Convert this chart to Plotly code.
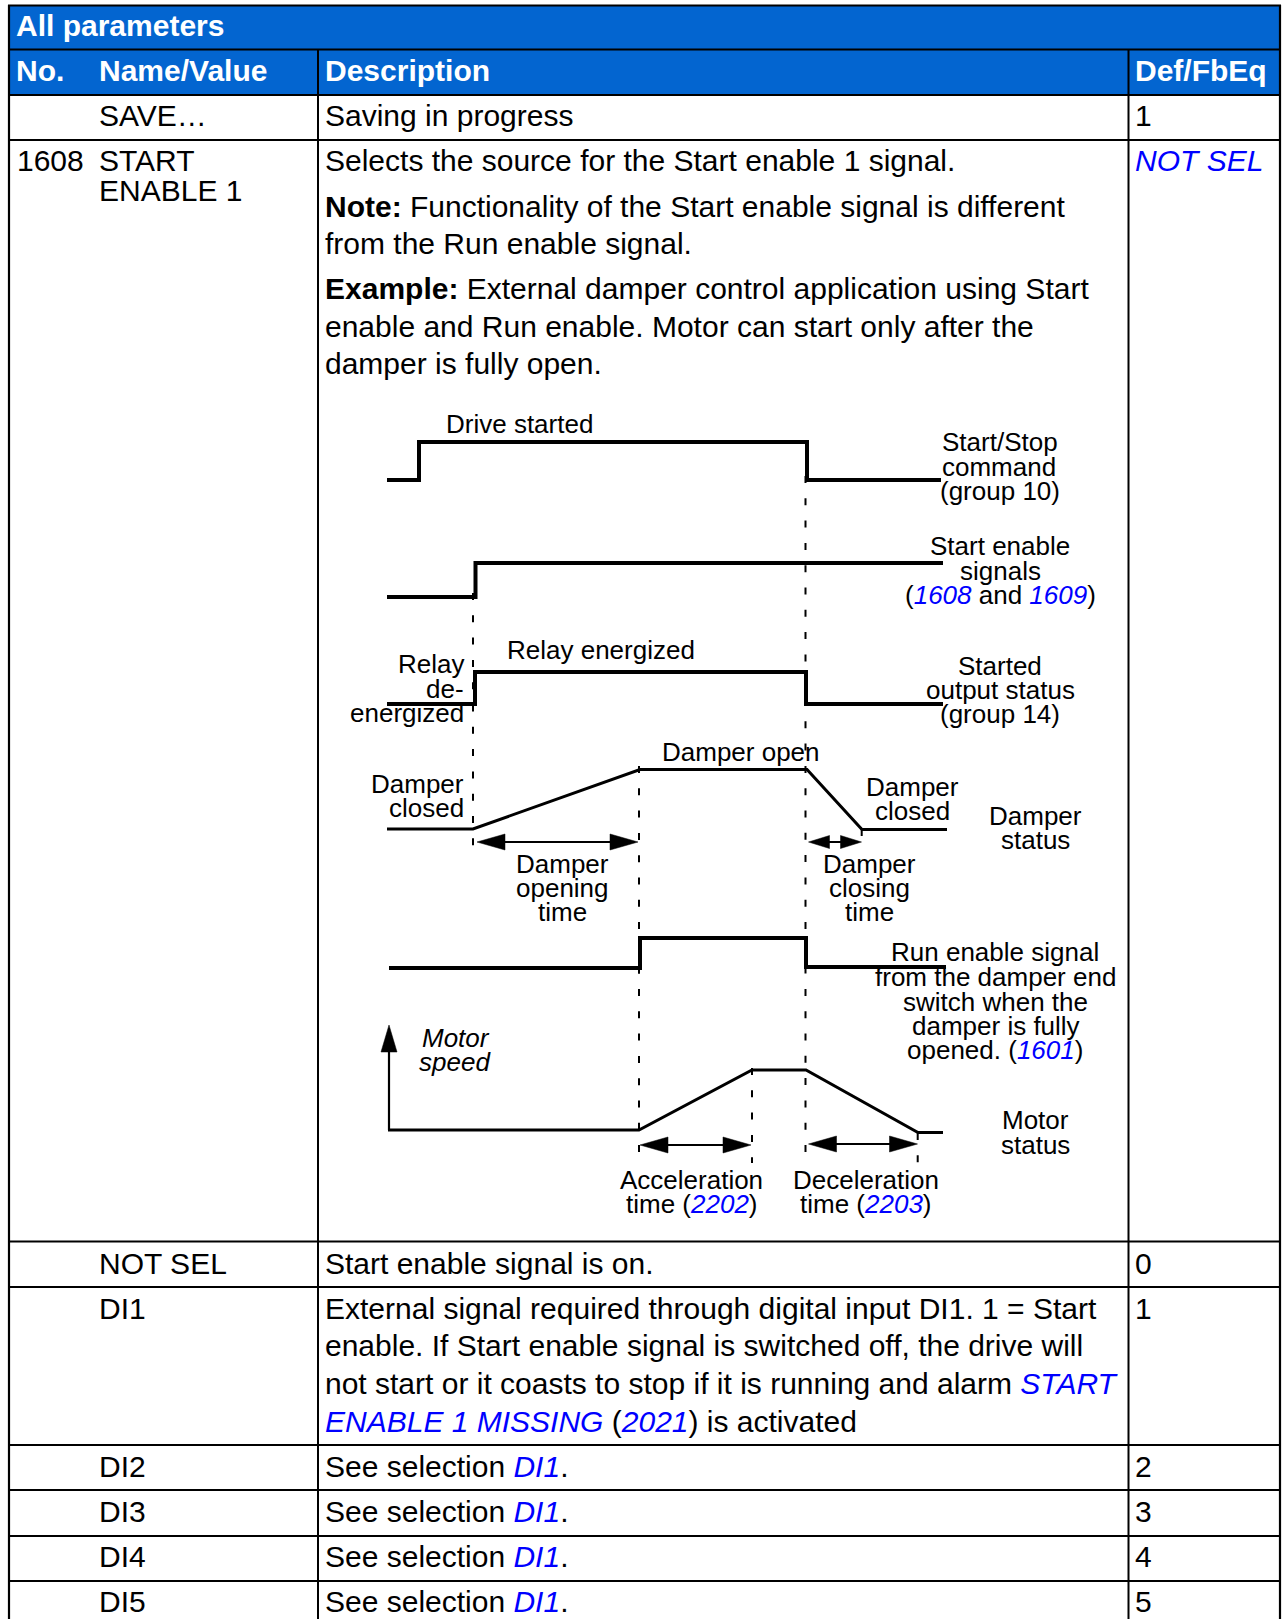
import plotly.graph_objects as go

W, H = 1288, 1619
BLUE = "#0000FF"
HEADER = "#0365D0"
FONT = "Liberation Sans, Arial, sans-serif"

# ---- signal waveforms
start_stop_x = [387, 419, 419, 807, 807, 941]
start_stop_y = [480, 480, 442, 442, 480, 480]
start_enable_x = [387, 475.5, 475.5, 943]
start_enable_y = [597, 597, 563, 563]
relay_x = [387, 475, 475, 806, 806, 943]
relay_y = [704, 704, 672, 672, 704, 704]
damper_x = [387, 473, 640, 807, 862, 947]
damper_y = [829, 829, 769.5, 769.5, 829.5, 829.5]
run_enable_x = [389, 640, 640, 806, 806, 946]
run_enable_y = [968, 968, 938, 938, 967, 967]
motor_x = [388, 639, 752, 806, 918, 943]
motor_y = [1130, 1130, 1070, 1070, 1132.5, 1132.5]

# ---- time markers
marker_x = [473, 805.5, 639, 752, 861.7, 917.7]
marker_top = [593, 476, 766, 1068, 829, 1133]
marker_bottom = [853, 1158, 1153, 1163, 848, 1165]

# ---- timing spans
span_from = [477, 808.5, 640, 808.5]
span_to = [638, 861.5, 751, 917.5]
span_y = [842, 842, 1145, 1144]

# ---- table grid
row_lines = [49.5, 95, 140, 1241.5, 1287, 1445, 1490, 1536, 1581]
col_lines = [318, 1128.5]

# ---- table columns
COL_NO, COL_NAME, COL_DESC, COL_DEF = 15, 97.5, 324, 1134


def link(s):
    return f"<i><span style='color:{BLUE}'>{s}</span></i>"


# ---- table text: (x column, baseline, text, colour)
table_text = [
    (COL_NO, 35, "<b>All parameters</b>", "white"),
    (COL_NO, 80, "<b>No.</b>", "white"),
    (COL_NAME, 80, "<b>Name/Value</b>", "white"),
    (COL_DESC, 80, "<b>Description</b>", "white"),
    (COL_DEF, 80, "<b>Def/FbEq</b>", "white"),
    (COL_NAME, 125, "SAVE…", "black"),
    (COL_DESC, 125, "Saving in progress", "black"),
    (COL_DEF, 125, "1", "black"),
    (COL_NO + 1, 170, "1608", "black"),
    (COL_NAME, 170, "START", "black"),
    (COL_NAME, 200, "ENABLE 1", "black"),
    (COL_DESC, 170, "Selects the source for the Start enable 1 signal.", "black"),
    (COL_DEF, 170, link("NOT SEL"), "black"),
    (COL_DESC, 215.8, "<b>Note:</b> Functionality of the Start enable signal is different", "black"),
    (COL_DESC, 253.2, "from the Run enable signal.", "black"),
    (COL_DESC, 297.5, "<b>Example:</b> External damper control application using Start", "black"),
    (COL_DESC, 336, "enable and Run enable. Motor can start only after the", "black"),
    (COL_DESC, 373, "damper is fully open.", "black"),
    (COL_NAME, 1273, "NOT SEL", "black"),
    (COL_DESC, 1273, "Start enable signal is on.", "black"),
    (COL_DEF, 1273, "0", "black"),
    (COL_NAME, 1318, "DI1", "black"),
    (COL_DEF, 1318, "1", "black"),
    (COL_DESC, 1318, "External signal required through digital input DI1. 1 = Start", "black"),
    (COL_DESC, 1355.2, "enable. If Start enable signal is switched off, the drive will", "black"),
    (COL_DESC, 1393, f"not start or it coasts to stop if it is running and alarm {link('START')}", "black"),
    (COL_DESC, 1430.5, f"{link('ENABLE 1 MISSING')} ({link('2021')}) is activated", "black"),
]
for name, base, val in [("DI2", 1475.7, "2"), ("DI3", 1520.7, "3"), ("DI4", 1565.7, "4"), ("DI5", 1610.7, "5")]:
    table_text += [
        (COL_NAME, base, name, "black"),
        (COL_DESC, base, f"See selection {link('DI1')}.", "black"),
        (COL_DEF, base, val, "black"),
    ]

# ---- diagram text: (x, baseline, anchor, text)
diagram_text = [
    (444.7, 432, "left", "Drive started"),
    (505.7, 658, "left", "Relay energized"),
    (464.5, 672, "right", "Relay"),
    (464.5, 697, "right", "de-"),
    (464.5, 721.5, "right", "energized"),
    (660.5, 760.5, "left", "Damper open"),
    (464.5, 792, "right", "Damper"),
    (464.5, 816.5, "right", "closed"),
    (999.5, 450.5, "center", "Start/Stop"),
    (998.5, 475.5, "center", "command"),
    (999.5, 499.5, "center", "(group 10)"),
    (1000, 554, "center", "Start enable"),
    (1000, 579, "center", "signals"),
    (1000, 603, "center", f"({link('1608')} and {link('1609')})"),
    (1000, 674, "center", "Started"),
    (1000, 698.5, "center", "output status"),
    (1000, 722.5, "center", "(group 14)"),
    (912.2, 795.5, "center", "Damper"),
    (912.2, 819.5, "center", "closed"),
    (1035.2, 824.5, "center", "Damper"),
    (1035.2, 848.5, "center", "status"),
    (562.7, 872.5, "center", "Damper"),
    (562.7, 896.5, "center", "opening"),
    (562.7, 920.5, "center", "time"),
    (869, 872.5, "center", "Damper"),
    (869, 896.5, "center", "closing"),
    (869, 920.5, "center", "time"),
    (995, 960.5, "center", "Run enable signal"),
    (995, 985.5, "center", "from the damper end"),
    (995, 1010, "center", "switch when the"),
    (995.5, 1034.5, "center", "damper is fully"),
    (995, 1058.5, "center", f"opened. ({link('1601')})"),
    (420.8, 1046.5, "left", "<i>Motor</i>"),
    (418, 1070.5, "left", "<i>speed</i>"),
    (1035.2, 1128.5, "center", "Motor"),
    (1035.2, 1153.5, "center", "status"),
    (691, 1188.5, "center", "Acceleration"),
    (691.5, 1212.5, "center", f"time ({link('2202')})"),
    (865.5, 1188.5, "center", "Deceleration"),
    (866, 1212.5, "center", f"time ({link('2203')})"),
]

TABLE_SIZE = 30
DIAGRAM_SIZE = 26
BASE_K = 0.3465
BASE_NUDGE = 1

fig = go.Figure()


def line(x, y, width, dash=None):
    fig.add_trace(go.Scatter(x=x, y=y, mode="lines", hoverinfo="skip", showlegend=False,
                             line=dict(color="black", width=width, dash=dash)))


def solid(x, y):
    fig.add_trace(go.Scatter(x=x, y=y, mode="lines", fill="toself", fillcolor="black",
                             hoverinfo="skip", showlegend=False, line=dict(color="black", width=0.5)))


# markers first, waveforms on top
for mx, top, bot in zip(marker_x, marker_top, marker_bottom):
    line([mx, mx], [top, bot], 2, "7px,15.3px")

line(start_stop_x, start_stop_y, 4)
line(start_enable_x, start_enable_y, 4)
line(relay_x, relay_y, 4)
line(run_enable_x, run_enable_y, 4)
line(damper_x, damper_y, 3)
line(motor_x, motor_y, 3)

# timing spans with double arrow heads
for i, (a, b, y) in enumerate(zip(span_from, span_to, span_y)):
    head, half = (21, 6.5) if i == 1 else (28, 8)
    line([a + 5, b - 5], [y, y], 2)
    solid([a, a + head, a + head, a], [y, y - half, y + half, y])
    solid([b, b - head, b - head, b], [y, y - half, y + half, y])

# motor speed axis
axis_x, axis_top, axis_bottom = 389, 1025, 1130
line([axis_x, axis_x], [axis_top + 15, axis_bottom], 2.2)
solid([axis_x, axis_x - 8, axis_x + 8, axis_x], [axis_top, axis_top + 27, axis_top + 27, axis_top])

# table background and grid
shapes = [dict(type="rect", xref="x", yref="y", x0=9, x1=1280, y0=5, y1=95,
               fillcolor=HEADER, line_width=0, layer="below")]
for y in row_lines:
    shapes.append(dict(type="line", xref="x", yref="y", x0=9, x1=1280, y0=y, y1=y,
                       line=dict(color="black", width=2)))
for x in col_lines:
    shapes.append(dict(type="line", xref="x", yref="y", x0=x, x1=x, y0=49.5, y1=H,
                       line=dict(color="black", width=2)))
for x in [9, 1280]:
    shapes.append(dict(type="line", xref="x", yref="y", x0=x, x1=x, y0=5, y1=H,
                       line=dict(color="black", width=2.2)))
shapes.append(dict(type="line", xref="x", yref="y", x0=8, x1=1281, y0=5.5, y1=5.5,
                   line=dict(color="black", width=2)))

annotations = []
for x, base, text, color in table_text:
    annotations.append(dict(x=x, y=base + BASE_NUDGE - BASE_K * TABLE_SIZE, text=text, xanchor="left", yanchor="middle",
                            showarrow=False, borderpad=0, font=dict(family=FONT, size=TABLE_SIZE, color=color)))
for x, base, anchor, text in diagram_text:
    annotations.append(dict(x=x, y=base + BASE_NUDGE - BASE_K * DIAGRAM_SIZE, text=text, xanchor=anchor, yanchor="middle",
                            showarrow=False, borderpad=0, font=dict(family=FONT, size=DIAGRAM_SIZE, color="black")))

fig.update_layout(
    width=W, height=H, autosize=False, margin=dict(l=0, r=0, t=0, b=0),
    paper_bgcolor="white", plot_bgcolor="white", showlegend=False,
    xaxis=dict(range=[0, W], visible=False, fixedrange=True),
    yaxis=dict(range=[H, 0], visible=False, fixedrange=True),
    shapes=shapes, annotations=annotations,
)
fig.write_html("out.html", config=dict(displayModeBar=False),
               post_script="document.body.style.margin='0';document.documentElement.style.overflow='hidden';")
